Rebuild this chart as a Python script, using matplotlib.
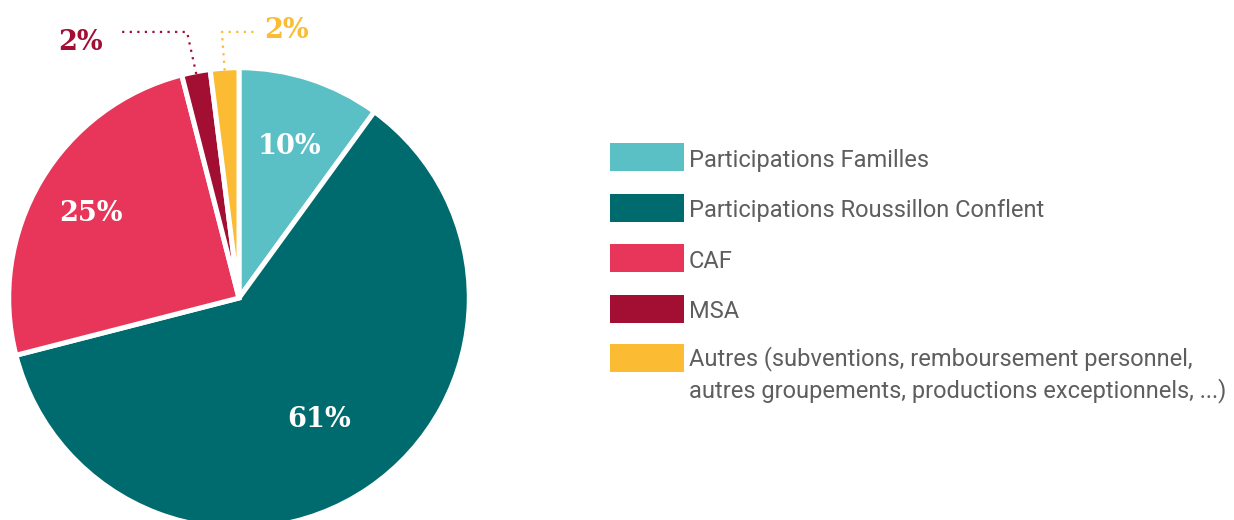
import matplotlib
matplotlib.use("Agg")
import matplotlib.pyplot as plt
import numpy as np
from matplotlib.patches import Rectangle

labels = [
    "Participations Familles",
    "Participations Roussillon Conflent",
    "CAF",
    "MSA",
    "Autres (subventions, remboursement personnel,\nautres groupements, productions exceptionnels, ...)",
]
values = [10, 61, 25, 2, 2]
pct_labels = ["10%", "61%", "25%", "2%", "2%"]
colors = ["#5bc0c6", "#006b6e", "#e8355a", "#a30f33", "#fbbc33"]

W, H = 1234, 520
R = 228.0  # pie radius in px
CX, CY = 239, 298  # pie centre in px (from top)

fig = plt.figure(figsize=(W / 100, H / 100), dpi=100)
ax = fig.add_axes([0, 0, 600 / W, 1])
ax.axis("off")

wedges, _ = ax.pie(values, colors=colors, startangle=90, counterclock=False,
                   radius=1.01, wedgeprops=dict(edgecolor="white", linewidth=3.6))
ax.set_xlim(-CX / R, (600 - CX) / R)
ax.set_ylim(-(H - CY) / R, CY / R)
ax.set_aspect("equal")

serif = dict(family="DejaVu Serif", fontweight="bold")

# labels inside the big slices
inner_r = [0.712, 0.628, 0.757]
for w, txt, r in zip(wedges[:3], pct_labels[:3], inner_r):
    a = np.deg2rad((w.theta1 + w.theta2) / 2)
    ax.text(r * np.cos(a), r * np.sin(a), txt, color="white", fontsize=19.5,
            ha="center", va="center_baseline", **serif)

# leader lines for the two small slices
elbow_y = 1.167
small = [
    # wedge idx, elbow x, end x, label x, label y, ha
    (3, -0.228, -0.513, -0.596, 1.132, "right"),
    (4, -0.075, 0.083, 0.110, 1.185, "left"),
]
for i, ex, endx, lx, ly, ha in small:
    w = wedges[i]
    a = np.deg2rad((w.theta1 + w.theta2) / 2)
    sx, sy = np.cos(a), np.sin(a)
    ax.plot([sx, ex, endx], [sy, elbow_y, elbow_y], color=colors[i], lw=1.6,
            linestyle=(0, (1, 2.4)), clip_on=False)
    ax.text(lx, ly, pct_labels[i], color=colors[i], fontsize=19.5, ha=ha,
            va="center_baseline", clip_on=False, **serif)

# legend drawn by hand
box_tops = [143, 194, 244, 295, 344]
for top, lab, col in zip(box_tops, labels, colors):
    fig.patches.append(Rectangle((610 / W, 1 - (top + 28) / H), 74 / W, 28 / H,
                                 transform=fig.transFigure, facecolor=col,
                                 edgecolor="none"))
    if "\n" in lab:
        fig.text(689 / W, 1 - (top + 2) / H, lab, fontsize=17, family="Roboto",
                 color="#5e5e5e", ha="left", va="top", linespacing=1.35)
    else:
        fig.text(689 / W, 1 - (top + 17) / H, lab, fontsize=17, family="Roboto",
                 color="#5e5e5e", ha="left", va="center")

fig.savefig("out.png", dpi=100)
